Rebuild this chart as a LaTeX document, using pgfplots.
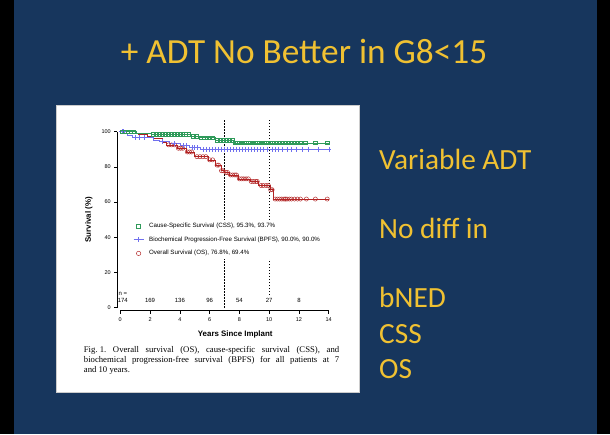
\documentclass[border=0pt]{standalone}
\usepackage{pgfplots}
\pgfplotsset{compat=1.18}
\usepackage{fontspec}
\newfontfamily\slidefont{Carlito}
\newfontfamily\helv{Liberation Sans}
\newfontfamily\tms{Liberation Serif}
\definecolor{slidebg}{HTML}{17365D}
\definecolor{slideyellow}{HTML}{F0C132}
\definecolor{cssgreen}{HTML}{2F9A5A}
\definecolor{bpfsblue}{HTML}{7070EE}
\definecolor{osred}{HTML}{B22222}
\begin{document}
\begin{tikzpicture}[x=1pt,y=1pt]
\useasboundingbox (0,0) rectangle (610,434);
\fill[black] (0,0) rectangle (610,434);
\fill[slidebg] (14.4,0) rectangle (596.5,434);
\node[anchor=base, text=slideyellow, inner sep=0pt] at (304,370.5) {\slidefont\fontsize{35.3}{42}\selectfont + ADT No Better in G8<15};
\begin{scope}[text=slideyellow]
\node[anchor=base west, inner sep=0pt] at (379,264.7) {\slidefont\fontsize{29.3}{35}\selectfont Variable ADT};
\node[anchor=base west, inner sep=0pt] at (379,195) {\slidefont\fontsize{29.3}{35}\selectfont No diff in};
\node[anchor=base west, inner sep=0pt] at (379,126.3) {\slidefont\fontsize{29.3}{35}\selectfont bNED};
\node[anchor=base west, inner sep=0pt] at (379,90.7) {\slidefont\fontsize{29.3}{35}\selectfont CSS};
\node[anchor=base west, inner sep=0pt] at (379,55.5) {\slidefont\fontsize{29.3}{35}\selectfont OS};
\end{scope}
\fill[white, draw=gray!40, line width=0.5pt] (56.7,41.7) rectangle (359.3,329);
\node[anchor=north west, inner sep=0pt, text=black] at (83.7,87.5) {\tms\fontsize{8.7}{10}\selectfont
\vbox{\hsize=255.3pt\parindent=0pt
\hbox to \hsize{Fig.\ 1.\hfil Overall\hfil survival\hfil (OS),\hfil cause-specific\hfil survival\hfil (CSS),\hfil and}
\hbox to \hsize{biochemical\hfil progression-free\hfil survival\hfil (BPFS)\hfil for\hfil all\hfil patients\hfil at\hfil 7}
\hbox{and 10 years.}}};
\begin{axis}[
  at={(117.3pt,123.3pt)}, anchor=south west,
  scale only axis, width=214.4pt, height=191.3pt,
  xmin=-0.2, xmax=14.2, ymin=-1.8, ymax=107,
  axis lines*=left, axis line style={draw=none},
  clip=false,
  xtick={0,2,...,14}, ytick={0,20,...,100},
  tick align=outside, major tick length=3pt,
  tick style={black, line width=0.5pt},
  ticklabel style={font=\helv\fontsize{5.5}{6}\selectfont},
  /pgf/number format/assume math mode=true,
  xlabel={Years Since Implant}, ylabel={Survival (\%)},
  every axis x label/.style={at={(axis cs:7.72,-15.5)}, anchor=center, font=\helv\bfseries\fontsize{7.9}{9}\selectfont},
  every axis y label/.style={at={(axis cs:-2.12,49.9)}, anchor=center, rotate=90, font=\helv\bfseries\fontsize{7.9}{9}\selectfont},
  legend style={at={(axis cs:0.8,50)}, anchor=north west, draw=none, fill=white,
    font=\helv\fontsize{6.2}{7}\selectfont, inner sep=1pt, row sep=3.8pt,
    cells={anchor=west}},
]
\draw[line width=0.5pt] (axis cs:-0.2,0) -- (axis cs:-0.2,100);
\draw[line width=0.5pt] (axis cs:0,-1.8) -- (axis cs:14,-1.8);
\draw[black, line width=0.6pt, dash pattern=on 1.5pt off 1.5pt] (axis cs:7,0) -- (axis cs:7,107);
\draw[black, line width=0.6pt, dash pattern=on 1.5pt off 1.5pt] (axis cs:10,7) -- (axis cs:10,107);
% OS
\addplot[const plot, osred, line width=0.5pt, forget plot] table {
x y
0 100
0.6 99.4
1.2 98.6
1.8 97.6
2.2 96.2
2.8 94.0
3.1 92.5
3.8 90.6
4.4 88.5
5.0 85.8
5.9 84.0
6.4 81.0
6.75 77.8
7.0 76.8
7.3 75.4
7.9 73.2
8.7 71.7
9.3 69.4
10.05 67.0
10.25 61.7
14 61.7
};
\addplot[only marks, mark=o, mark size=2.1pt, osred, mark options={line width=0.45pt}, forget plot] table {
x y
3.25 92.5
3.45 92.5
3.65 92.5
3.9 90.6
4.05 90.6
4.2 90.6
4.5 88.5
4.65 88.5
4.8 88.5
5.15 85.8
5.35 85.8
5.55 85.8
5.75 85.8
6.0 84.0
6.2 84.0
6.5 81.0
6.6 81.0
6.8 77.8
6.9 77.8
7.1 76.8
7.2 76.8
7.4 75.4
7.55 75.4
7.7 75.4
7.8 75.4
8.0 73.2
8.15 73.2
8.3 73.2
8.45 73.2
8.6 73.2
8.8 71.7
8.95 71.7
9.1 71.7
9.2 71.7
9.45 69.4
9.6 69.4
9.8 69.4
9.95 69.4
10.1 67.0
10.2 67.0
10.4 61.7
10.55 61.7
10.7 61.7
10.85 61.7
11.0 61.7
11.1 61.7
11.2 61.7
11.35 61.7
11.5 61.7
11.7 61.7
11.9 61.7
12.1 61.7
12.5 61.7
13.1 61.7
13.9 61.7
};
% BPFS
\addplot[const plot, bpfsblue, line width=0.5pt, forget plot] table {
x y
0 100
0.3 99.0
0.5 97.8
0.8 96.8
2.2 95.2
2.6 94.6
3.3 93.4
4.0 92.1
4.6 91.0
5.4 90.0
14 90.0
};
\addplot[only marks, mark=+, mark size=2.3pt, bpfsblue, mark options={line width=0.45pt}, forget plot] table {
x y
0.1 100
0.2 100
1.0 96.8
1.3 96.8
1.6 96.8
2.8 94.6
3.6 93.4
4.2 92.1
4.4 92.1
4.8 91.0
5.0 91.0
5.2 91.0
5.6 90
5.8 90
6.0 90
6.2 90
6.4 90
6.6 90
6.8 90
7.0 90
7.2 90
7.4 90
7.6 90
7.8 90
8.0 90
8.2 90
8.4 90
8.6 90
8.8 90
9.0 90
9.2 90
9.4 90
9.6 90
9.9 90
10.2 90
10.4 90
10.6 90
10.9 90
11.2 90
11.5 90
11.8 90
12.2 90
12.6 90
13.3 90
14.0 90
};
% CSS
\addplot[const plot, cssgreen, line width=0.5pt, forget plot] table {
x y
0 100
1.1 99.2
2.1 98.5
4.8 97.6
5.3 96.6
6.4 95.3
7.6 93.7
14 93.7
};
\addplot[only marks, mark=square, mark size=1.9pt, cssgreen, mark options={line width=0.45pt}, forget plot] table {
x y
0.1 100
0.3 100
0.5 100
0.7 100
0.9 100
2.2 98.5
2.4 98.5
2.6 98.5
2.8 98.5
3.0 98.5
3.2 98.5
3.4 98.5
3.6 98.5
3.8 98.5
4.0 98.5
4.2 98.5
4.4 98.5
4.6 98.5
4.9 97.6
5.1 97.6
5.4 96.6
5.6 96.6
5.8 96.6
6.0 96.6
6.2 96.6
6.5 95.3
6.7 95.3
6.9 95.3
7.1 95.3
7.3 95.3
7.5 95.3
7.7 93.7
7.85 93.7
8.0 93.7
8.15 93.7
8.3 93.7
8.45 93.7
8.6 93.7
8.75 93.7
8.9 93.7
9.05 93.7
9.2 93.7
9.35 93.7
9.5 93.7
9.65 93.7
9.8 93.7
9.95 93.7
10.1 93.7
10.3 93.7
10.5 93.7
10.7 93.7
10.9 93.7
11.1 93.7
11.3 93.7
11.5 93.7
11.7 93.7
11.9 93.7
12.1 93.7
12.4 93.7
13.1 93.7
13.9 93.7
};
% legend
\addlegendimage{legend image code/.code={\path[draw=none,fill=none] (0pt,-2.5pt) rectangle (13pt,2.5pt); \draw[cssgreen, line width=0.45pt] plot[only marks, mark=square, mark size=2pt] coordinates {(4.5pt,0pt)};}}
\addlegendentry{Cause-Specific Survival (CSS), 95.3\%, 93.7\%}
\addlegendimage{legend image code/.code={\path[draw=none,fill=none] (0pt,-2.5pt) rectangle (13pt,2.5pt); \draw[bpfsblue, line width=0.45pt] (-0.5pt,0pt) -- (9.5pt,0pt); \draw[bpfsblue, line width=0.45pt] plot[only marks, mark=+, mark size=2.3pt] coordinates {(4.5pt,0pt)};}}
\addlegendentry{Biochemical Progression-Free Survival (BPFS), 90.0\%, 90.0\%}
\addlegendimage{legend image code/.code={\path[draw=none,fill=none] (0pt,-2.5pt) rectangle (13pt,2.5pt); \draw[osred, line width=0.45pt] plot[only marks, mark=o, mark size=2.2pt] coordinates {(4.5pt,0pt)};}}
\addlegendentry{Overall Survival (OS), 76.8\%, 69.4\%}
% at-risk
\node[anchor=west, font=\helv\fontsize{6}{7}\selectfont, inner sep=0pt] at (axis cs:-0.13,7.6) {n =};
\node[font=\helv\fontsize{6}{7}\selectfont, inner sep=0pt] at (axis cs:0.17,3.8) {174};
\node[font=\helv\fontsize{6}{7}\selectfont, inner sep=0pt] at (axis cs:2,3.8) {169};
\node[font=\helv\fontsize{6}{7}\selectfont, inner sep=0pt] at (axis cs:4,3.8) {136};
\node[font=\helv\fontsize{6}{7}\selectfont, inner sep=0pt] at (axis cs:6,3.8) {96};
\node[font=\helv\fontsize{6}{7}\selectfont, inner sep=0pt] at (axis cs:8,3.8) {54};
\node[font=\helv\fontsize{6}{7}\selectfont, inner sep=0pt] at (axis cs:10,3.8) {27};
\node[font=\helv\fontsize{6}{7}\selectfont, inner sep=0pt] at (axis cs:12,3.8) {8};
\end{axis}
\end{tikzpicture}
\end{document}
